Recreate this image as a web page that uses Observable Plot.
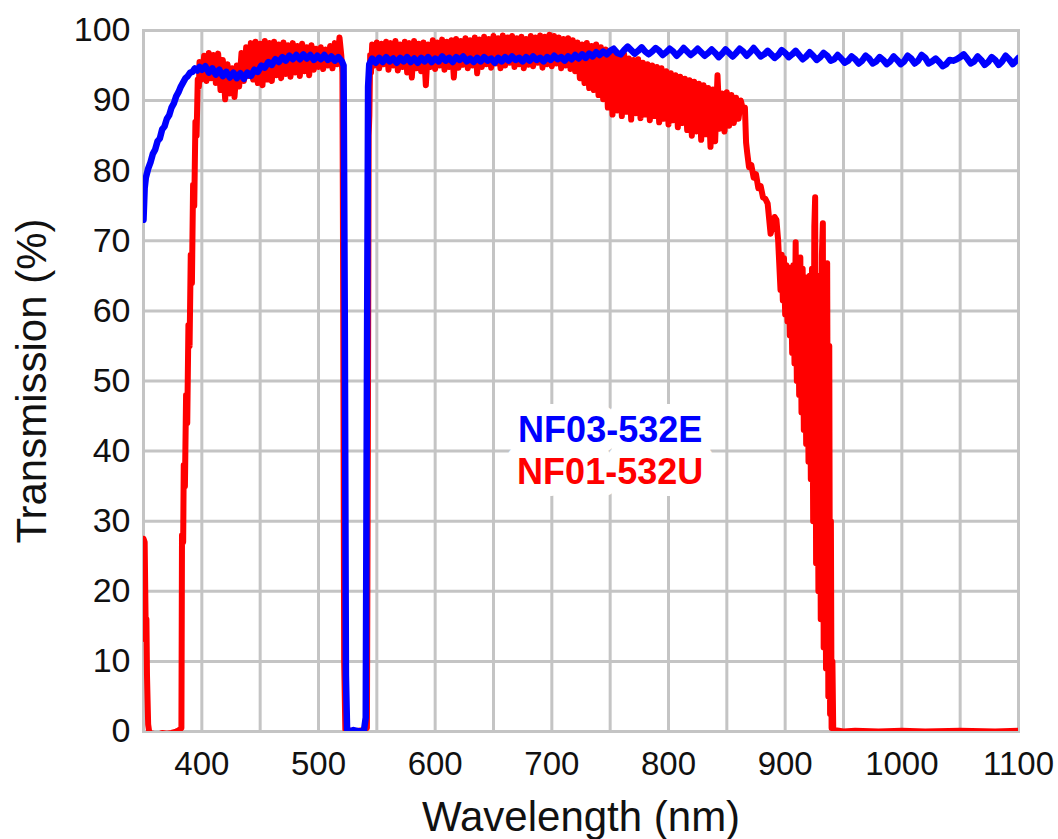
<!DOCTYPE html>
<html>
<head>
<meta charset="utf-8">
<script src="https://cdn.jsdelivr.net/npm/d3@7"></script>
<script src="https://cdn.jsdelivr.net/npm/@observablehq/plot@0.6"></script>
<style>
  html, body { margin: 0; padding: 0; background: #fff; }
  #chart svg { display: block; }
</style>
</head>
<body>
<div id="chart"></div>
<script>
// ---- tick labels & grid ----
const xTicks = [400, 500, 600, 700, 800, 900, 1000, 1100];
const xGrid = [400, 450, 500, 550, 600, 650, 700, 750, 800, 850, 900, 950, 1000, 1050];
const yTicks = [0, 10, 20, 30, 40, 50, 60, 70, 80, 90, 100];
const seriesNames = ["NF03-532E", "NF01-532U"];

// ---- NF03-532E (blue) ----
const blueNm = [
  350,351,352,354,356,358,360,362,364,366,368,370,372,374,376,378,380,382,384,386,388,390,392,394,396,398,400,
  403,406,409,412,415,418,421,424,427,430,433,436,439,442,445,448,451,454,457,460,463,466,469,472,475,478,481,484,487,490,493,496,499,502,505,508,511,514,517,520,
  521.5,522.5,523.5,524.5,527,530,535,539,540.5,541.5,542.5,543.5,
  546,549,552,555,558,561,564,567,570,573,576,579,582,585,588,591,594,597,600,603,606,609,612,615,618,621,624,627,630,633,636,639,642,645,648,651,654,657,660,663,666,669,672,675,678,681,684,687,690,693,696,699,702,705,708,711,714,717,720,723,726,729,732,735,738,741,744,747,750,
  753,756,759,762,765,768,771,774,777,780,783,786,789,792,795,798,801,804,807,810,813,816,819,822,825,828,831,834,837,840,843,846,849,852,855,858,861,864,867,870,873,876,879,882,885,888,891,894,897,900,903,906,909,912,915,918,921,924,927,930,933,936,939,942,945,948,951,954,957,960,963,966,969,972,975,978,981,984,987,990,993,996,999,1002,1005,1008,1011,1014,1017,1020,1023,1026,1029,1032,1035,1038,1041,1044,1047,1050,1053,1056,1059,1062,1065,1068,1071,1074,1077,1080,1083,1086,1089,1092,1095,1098,1100
];
const blueT = [
  73.0,77.5,79.0,80.3,81.2,82.4,83.0,84.2,84.6,85.9,86.3,87.4,87.9,89.0,89.6,90.6,91.2,92.0,92.6,93.2,93.5,94.0,94.1,94.6,94.3,94.8,94.4,
  94.9,94.0,94.6,93.7,94.4,93.5,94.1,93.3,94.0,93.2,93.9,93.1,94.0,93.5,94.4,94.1,95.0,94.7,95.5,95.1,95.9,95.5,96.2,95.7,96.4,95.9,96.5,95.9,96.6,96.0,96.5,95.8,96.4,95.9,96.5,95.8,96.3,95.7,96.2,95.6,
  95.0,60,8,0.3,0,0.2,0,0.2,2,50,92,95.2,
  96.0,95.4,96.1,95.5,96.2,95.6,96.0,95.4,96.1,95.6,96.2,95.5,96.0,95.4,96.1,95.6,96.2,95.5,96.0,95.6,96.3,95.7,96.1,95.5,96.2,95.8,96.3,95.6,96.0,95.5,96.1,95.6,96.2,95.7,96.0,95.4,96.1,95.6,96.2,95.7,96.3,95.8,96.1,95.6,96.2,95.7,96.3,95.8,96.1,95.6,96.2,95.8,96.4,95.9,96.2,95.7,96.3,95.9,96.5,96.0,96.6,96.1,96.7,96.3,96.9,96.5,97.0,96.6,97.1,
  97.4,96.8,96.6,97.2,97.7,97.2,96.7,97.1,97.6,97.0,96.6,97.0,97.5,97.1,96.5,96.9,97.4,97.0,96.4,96.9,97.5,97.0,96.5,96.9,97.4,96.9,96.4,96.8,97.3,96.8,96.2,96.7,97.3,96.8,96.3,96.8,97.4,97.0,96.4,96.9,97.5,96.9,96.3,96.6,97.1,96.6,96.1,96.5,97.2,96.8,96.2,96.6,97.1,96.5,95.9,96.3,96.9,96.4,95.8,96.2,96.8,96.4,95.7,95.9,96.5,96.0,95.4,95.7,96.3,95.9,95.3,95.7,96.4,96.0,95.3,95.6,96.2,95.8,95.2,95.6,96.3,95.8,95.2,95.6,96.4,96.0,95.3,95.7,96.5,96.1,95.3,95.6,96.0,95.5,94.9,95.2,95.8,95.7,95.9,96.2,96.6,96.0,95.3,95.6,96.3,95.8,95.1,95.5,96.2,95.8,95.1,95.6,96.4,95.9,95.2,95.7,96.1
];

// ---- NF01-532U (red) ----
const redNm = [
  350,351,351.5,352,352.5,353,354,355,358,362,366,370,374,378,380.5,382.5,383,384,384.5,385.5,386.5,387.5,388.5,389.5,390.5,391.5,392.5,393.5,394.5,395.5,396.5,397.5,
  398,400,402,404,406,408,410,412,414,416,418,420,422,424,426,428,430,432,434,436,438,440,442,444,446,448,450,452,454,456,458,460,462,464,466,468,470,472,474,476,478,480,482,484,486,488,490,492,494,496,498,500,502,504,506,508,510,512,514,516,518,519.5,520.5,521.2,522,523,530,538,541.5,542.3,543,543.6,544.3,545,
  546,548,550,552,554,556,558,560,562,564,566,568,570,572,574,576,578,580,582,584,586,588,590,592,594,596,598,600,602,604,606,608,610,612,614,616,618,620,622,624,626,628,630,632,634,636,638,640,642,644,646,648,650,652,654,656,658,660,662,664,666,668,670,672,674,676,678,680,682,684,686,688,690,692,694,696,698,700,702,704,706,708,710,712,714,716,718,720,
  722,724,726,728,730,732,734,736,738,740,742,744,746,748,750,752,754,756,758,760,762,764,766,768,770,772,774,776,778,780,782,784,786,788,790,792,794,796,798,800,802,804,806,808,810,812,814,816,818,820,822,824,826,828,830,832,834,836,838,840,842,844,846,848,850,852,854,856,858,860,862,864,865.5,866.5,867.5,869,871,873,875,877,879,881,883,885,887.5,889,891,892.5,894,
  896,897,898,899,900,901,902,903,904,905,906,907,908,909,910,911,912,913,914,915,916,917,918,919,920,921,922,923,924,925,925.7,926.5,927.5,928.5,929.5,930.5,931.5,932.3,933,934,935,936,937,937.8,938.5,939.2,939.8,940.5,941.2,
  943,950,960,980,1000,1020,1050,1080,1100
];
const redT = [
  27.5,27.0,20,13,16,8,1,-0.2,-0.3,-0.5,-0.2,-0.3,-0.2,0,0.2,0.5,28,27,38,35,48,44,58,55,68,64,78,75,87,85,93,92,
  95.5,93.0,96.4,92.8,96.8,93.2,96.5,92.5,96.7,91.5,95.8,90.2,95.2,91.0,94.6,90.5,95.0,92.0,96.8,92.8,97.6,93.5,98.2,93.0,98.4,92.5,98.1,92.2,98.5,93.0,98.2,92.8,98.4,93.6,98.0,93.2,98.3,93.8,97.9,93.4,98.2,94.0,97.8,93.5,98.1,94.2,97.6,93.6,97.9,94.4,97.4,94.8,97.6,94.5,97.3,95.0,97.8,94.6,98.2,95.2,99.0,96.5,94.0,60,10,0.3,0,0.2,0.5,40,85,88,96.5,94,
  98.0,95.0,98.3,94.6,98.1,95.2,98.4,94.4,98.2,95.0,98.5,94.3,98.0,94.8,98.4,94.0,98.2,93.3,98.5,94.6,98.1,94.2,98.3,92.2,98.0,94.8,98.6,94.5,98.3,95.0,98.7,94.4,98.4,94.8,98.6,93.3,98.8,94.7,98.5,95.1,98.9,94.6,98.6,95.0,99.0,93.9,98.7,94.8,99.1,95.2,98.8,94.7,99.2,95.3,98.9,94.6,99.3,95.0,99.0,95.4,99.2,94.8,98.9,95.2,99.1,94.6,98.8,95.1,99.2,94.9,99.0,95.4,99.3,94.7,99.1,95.2,99.4,94.9,99.2,95.3,99.0,94.6,98.8,95.0,98.9,94.5,98.6,94.2,
  98.3,93.2,98.0,92.5,98.2,91.8,97.8,91.5,98.0,90.8,97.6,90.2,97.3,89.0,97.0,88.0,96.8,88.6,96.5,87.8,96.6,88.4,96.0,87.3,95.8,88.2,95.9,87.5,95.4,88.0,95.2,87.2,95.0,87.8,94.8,86.9,94.6,87.4,94.2,86.6,93.9,87.2,93.6,86.2,93.4,86.8,93.1,85.8,92.9,85.0,92.7,85.6,92.4,84.4,92.2,85.2,91.8,83.4,91.6,84.2,93.6,86.0,91.0,85.6,91.2,86.4,90.8,86.8,90.4,87.4,90.0,88.6,89.0,84.0,82.5,80.5,80.8,79.0,79.5,77.5,77.8,76.2,76.0,75.3,71.0,72.0,73.4,73.0,70.0,
  63.0,68.0,61.5,67.5,59.5,66.5,58.5,66.2,56.5,65.5,54.0,66.5,52.5,69.8,50.0,67.5,48.0,67.6,45.5,66.0,43.0,64.8,41.0,64.5,38.5,65.0,36.0,66.0,30.0,72.0,76.2,24.0,64.8,20.0,65.0,16.0,68.0,72.5,12.0,62.0,9.0,66.8,5.0,55.0,2.5,30.0,0.5,10.0,0.3,
  0.2,0,0.1,0,0.1,0,0.1,0,0.1
];

const blue = blueNm.map((nm, i) => ({nm, t: blueT[i]}));
const red = redNm.map((nm, i) => ({nm, t: redT[i]}));

const gridColor = "#c4c4c4";
const font = "'Liberation Sans', Arial, sans-serif";

const chart = Plot.plot({
  width: 1058,
  height: 839,
  marginLeft: 143,
  marginRight: 40,
  marginTop: 30,
  marginBottom: 108,
  style: {fontFamily: font, fontSize: "34px", color: "#111", background: "#fff"},
  x: {domain: [350, 1100]},
  y: {domain: [0, 100]},
  marks: [
    Plot.gridX(xGrid, {stroke: gridColor, strokeOpacity: 1, strokeWidth: 3}),
    Plot.gridY(yTicks, {stroke: gridColor, strokeOpacity: 1, strokeWidth: 3}),
    Plot.frame({stroke: gridColor, strokeWidth: 3}),
    Plot.axisX(xTicks, {tickSize: 0, tickPadding: 20, label: null, fontSize: 33, tickFormat: d => String(d)}),
    Plot.axisY(yTicks, {tickSize: 0, tickPadding: 13, label: null, fontSize: 34, tickFormat: d => String(d)}),
    Plot.line(red, {x: "nm", y: "t", stroke: "#ff0000", strokeWidth: 6, strokeLinejoin: "round", strokeLinecap: "round", clip: true}),
    Plot.line(blue, {x: "nm", y: "t", stroke: "#0000ff", strokeWidth: 6.5, strokeLinejoin: "round", strokeLinecap: "round", clip: true}),
    Plot.text([seriesNames[0]], {x: 750, y: 42.9, text: d => d, fill: "#0000ff", fontWeight: "bold", fontSize: 36,
      stroke: "white", strokeWidth: 24, strokeLinejoin: "round", textAnchor: "middle"}),
    Plot.text([seriesNames[1]], {x: 750, y: 36.9, text: d => d, fill: "#ff0000", fontWeight: "bold", fontSize: 36,
      stroke: "white", strokeWidth: 24, strokeLinejoin: "round", textAnchor: "middle"}),
    Plot.text(["Wavelength (nm)"], {frameAnchor: "bottom", dy: 86, text: d => d, fontSize: 42, fill: "#111", lineAnchor: "middle", textAnchor: "middle"}),
    Plot.text(["Transmission (%)"], {frameAnchor: "left", dx: -111, rotate: -90, text: d => d, fontSize: 42, fill: "#111", lineAnchor: "middle", textAnchor: "middle"})
  ]
});
document.getElementById("chart").appendChild(chart);
</script>
</body>
</html>
